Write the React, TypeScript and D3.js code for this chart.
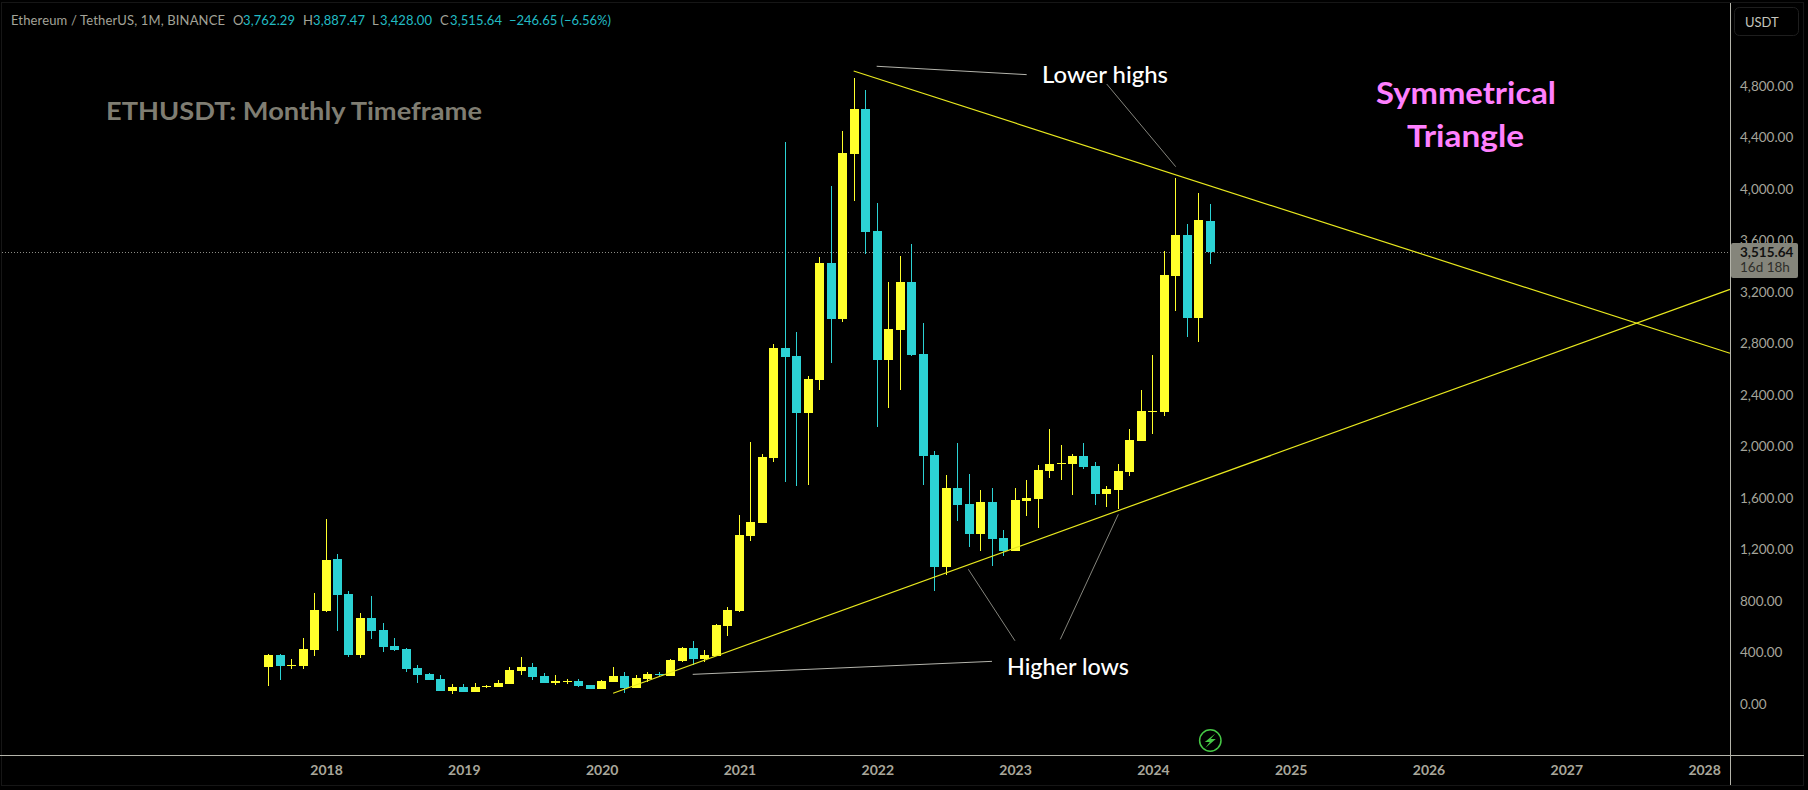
import React, { useEffect, useRef } from 'react';
import * as d3 from 'd3';

const WIDTH = 1808;
const HEIGHT = 790;
const AXIS_X = 1730;
const AXIS_Y = 755;
const LABEL_FONT = 'Lato, "Open Sans", sans-serif';

// monthly bars, Aug 2017 -> Jun 2024
const opens = [295, 388, 303, 303, 427, 730, 1134, 862, 388, 676, 583, 458, 435, 287, 241, 202, 109, 140, 101, 140, 140, 163, 264, 295, 225, 171, 179, 186, 155, 124, 179, 225, 132, 202, 241, 225, 342, 443, 357, 381, 614, 730, 1313, 1414, 1918, 2773, 2711, 2268, 2524, 3433, 3000, 4280, 4629, 3682, 2680, 2913, 3286, 2726, 1941, 1072, 1685, 1561, 1328, 1576, 1297, 1196, 1584, 1600, 1817, 1872, 1872, 1934, 1856, 1639, 1670, 1809, 2050, 2275, 2276, 3332, 3651, 3006, 3762.29];
const highs = [396, 396, 357, 520, 870, 1445, 1173, 885, 715, 847, 637, 520, 443, 311, 249, 233, 163, 163, 171, 155, 194, 295, 373, 326, 249, 233, 202, 202, 155, 194, 295, 256, 233, 256, 256, 357, 450, 497, 427, 629, 761, 1476, 2043, 1950, 2804, 4373, 2897, 2556, 3480, 4031, 4459, 4870, 4777, 3899, 3286, 3488, 3581, 2967, 1972, 1786, 2035, 1794, 1670, 1685, 1359, 1685, 1747, 1864, 2143, 2019, 1949, 2035, 1887, 1701, 1872, 2143, 2446, 2718, 3526, 4094, 3736, 3977, 3887.47];
const lows = [148, 194, 280, 280, 381, 722, 575, 373, 365, 513, 412, 419, 256, 171, 194, 109, 86, 101, 101, 132, 140, 163, 233, 194, 171, 155, 163, 140, 124, 124, 179, 93, 132, 179, 225, 225, 334, 311, 334, 381, 536, 722, 1274, 1414, 1887, 1732, 1701, 1709, 2447, 2657, 2975, 3915, 3503, 2159, 2307, 2447, 2711, 1709, 885, 1009, 1429, 1227, 1196, 1079, 1157, 1196, 1468, 1374, 1763, 1747, 1631, 1833, 1553, 1538, 1519, 1778, 2050, 2105, 2245, 3061, 2859, 2820, 3428];
const closes = [388, 303, 311, 435, 738, 1126, 854, 388, 676, 575, 450, 427, 280, 233, 194, 109, 140, 101, 140, 148, 171, 272, 295, 218, 171, 186, 186, 148, 124, 186, 225, 132, 210, 241, 233, 349, 443, 357, 388, 621, 738, 1320, 1421, 1926, 2773, 2703, 2268, 2532, 3433, 3000, 4288, 4629, 3674, 2680, 2921, 3286, 2719, 1934, 1072, 1685, 1553, 1328, 1576, 1289, 1196, 1592, 1607, 1825, 1872, 1879, 1934, 1848, 1639, 1677, 1817, 2058, 2283, 2283, 3340, 3651, 3006, 3767, 3515.64];

const priceTicks = [0, 400, 800, 1200, 1600, 2000, 2400, 2800, 3200, 3600, 4000, 4400, 4800];
const yearBars = [5, 17, 29, 41, 53, 65, 77, 89, 101, 113, 125];
const yearLabels = ['2018', '2019', '2020', '2021', '2022', '2023', '2024', '2025', '2026', '2027', '2028'];

const lastPrice = 3515.64;

// trend lines as [bar, price] anchors, extended past the last bar
const upperTrend = [[50.95, 4924], [127.25, 2732]];
const lowerTrend = [[30.0, 91], [127.25, 3228]];

// thin leader lines from the text notes
const leaders = [
    [[52.95, 4961], [66.01, 4896]],
    [[72.98, 4823], [78.99, 4181]],
    [[60.93, 1054], [64.99, 499]],
    [[73.99, 1481], [68.94, 510]],
    [[36.93, 238], [62.99, 339]]
];

const legendText = ['Ethereum / TetherUS, 1M, BINANCE', 'O', '3,762.29', 'H', '3,887.47', 'L', '3,428.00', 'C', '3,515.64', '−246.65 (−6.56%)'];
const legendX = [11, 233, 243, 303, 313, 372, 380, 440, 450, 509];
const legendLength = [214, null, 52, null, 52, null, 52, null, 52, 102];

const barX = d3.scaleLinear().domain([0, 82]).range([268.6, 1210.3]);
const priceY = d3.scaleLinear().domain([0, 4800]).range([705, 87]);

export default function App() {
    const ref = useRef<SVGSVGElement>(null);

    useEffect(() => {
        const svg = d3.select(ref.current);
        svg.selectAll('*').remove();

        svg.append('rect').attr('width', WIDTH).attr('height', HEIGHT).attr('fill', '#000');
        svg.append('rect')
            .attr('x', 1.5).attr('y', 2.5)
            .attr('width', 1802).attr('height', 783)
            .attr('fill', 'none').attr('stroke', '#161616');

        // last price line
        svg.append('line')
            .attr('x1', 2).attr('x2', AXIS_X)
            .attr('y1', Math.round(priceY(lastPrice)) + 0.5).attr('y2', Math.round(priceY(lastPrice)) + 0.5)
            .attr('stroke', '#8c8c86')
            .attr('stroke-dasharray', '1 2');

        // candles
        const candles = svg.append('g').selectAll('g')
            .data(d3.range(opens.length))
            .enter()
            .append('g')
            .attr('fill', i => (closes[i] >= opens[i] ? '#ffff2b' : '#2cd2d4'));

        candles.append('rect')
            .attr('x', i => Math.floor(barX(i)))
            .attr('width', 1)
            .attr('y', i => Math.round(priceY(highs[i])))
            .attr('height', i => Math.round(priceY(lows[i])) - Math.round(priceY(highs[i])));

        candles.append('rect')
            .attr('x', i => Math.floor(barX(i)) - 4)
            .attr('width', 9)
            .attr('y', i => Math.round(priceY(Math.max(opens[i], closes[i]))))
            .attr('height', i => Math.max(1, Math.round(priceY(Math.min(opens[i], closes[i]))) - Math.round(priceY(Math.max(opens[i], closes[i])))));

        // trend lines
        const line = d3.line<number[]>()
            .x(d => barX(d[0]))
            .y(d => priceY(d[1]));

        svg.append('g').selectAll('path')
            .data([upperTrend, lowerTrend])
            .enter()
            .append('path')
            .attr('d', line)
            .attr('fill', 'none')
            .attr('stroke', '#e8e81e')
            .attr('stroke-width', 1.2);

        svg.append('g').selectAll('path')
            .data(leaders)
            .enter()
            .append('path')
            .attr('d', line)
            .attr('fill', 'none')
            .attr('stroke', (d, i) => (i === 0 || i === 4 ? '#b4b4ac' : '#85857d'))
            .attr('stroke-width', 1);

        // notes
        const note = (text, x, y, size, weight, color, length) => {
            svg.append('text')
                .attr('x', x).attr('y', y)
                .attr('font-family', LABEL_FONT)
                .attr('font-size', size)
                .attr('font-weight', weight)
                .attr('fill', color)
                .attr('textLength', length)
                .attr('lengthAdjust', 'spacingAndGlyphs')
                .text(text);
        };
        note('ETHUSDT: Monthly Timeframe', 106, 120, 25, 700, '#7f7d72', 376);
        note('Lower highs', 1042, 83, 23, 500, '#ffffff', 126);
        note('Higher lows', 1007, 675, 23, 500, '#ffffff', 122);
        note('Symmetrical', 1376, 104, 30, 700, '#ff80ff', 180);
        note('Triangle', 1407, 147, 30, 700, '#ff80ff', 117);

        // legend
        const legend = svg.append('g').selectAll('text')
            .data(legendText)
            .enter()
            .append('text')
            .attr('x', (d, i) => legendX[i])
            .attr('y', 25)
            .attr('font-family', LABEL_FONT)
            .attr('font-size', 13)
            .attr('fill', (d, i) => (i === 0 || (i % 2 === 1 && i < 9) ? '#a3a398' : '#22bcc4'))
            .text(d => d);
        legend.filter((d, i) => legendLength[i] !== null)
            .attr('textLength', d => legendLength[legendText.indexOf(d)])
            .attr('lengthAdjust', 'spacing');

        // axes
        const yAxis = d3.axisRight(priceY)
            .tickValues(priceTicks)
            .tickFormat(d3.format(',.2f'))
            .tickSize(0)
            .tickPadding(10);
        const yG = svg.append('g').attr('transform', `translate(${AXIS_X},-1)`).call(yAxis);
        yG.select('.domain').remove();
        yG.selectAll('text')
            .attr('font-family', LABEL_FONT)
            .attr('font-size', 13.5)
            .attr('fill', '#a5a59b');

        const xAxis = d3.axisBottom(barX)
            .tickValues(yearBars)
            .tickFormat((d, i) => yearLabels[i])
            .tickSize(0)
            .tickPadding(10);
        const xG = svg.append('g').attr('transform', `translate(0,${AXIS_Y})`).call(xAxis);
        xG.select('.domain').remove();
        xG.selectAll('text')
            .attr('font-family', LABEL_FONT)
            .attr('font-size', 14)
            .attr('font-weight', 700)
            .attr('fill', '#a9a79b');

        svg.append('line')
            .attr('x1', AXIS_X + 0.5).attr('x2', AXIS_X + 0.5).attr('y1', 3).attr('y2', 785)
            .attr('stroke', '#b4b4aa');
        svg.append('line')
            .attr('x1', 0).attr('x2', 1804).attr('y1', AXIS_Y + 0.5).attr('y2', AXIS_Y + 0.5)
            .attr('stroke', '#b4b4aa');

        // currency button
        svg.append('rect')
            .attr('x', 1734.5).attr('y', 7.5)
            .attr('width', 64).attr('height', 28).attr('rx', 5)
            .attr('fill', 'none').attr('stroke', '#1e1e1e');
        svg.append('text')
            .attr('x', 1745).attr('y', 27)
            .attr('font-family', LABEL_FONT)
            .attr('font-size', 13)
            .attr('fill', '#c4c4bc')
            .text('USDT');

        // last price tag, sits on top of the 3,600 tick like in the platform
        svg.append('rect')
            .attr('x', AXIS_X + 1).attr('y', 243)
            .attr('width', 67).attr('height', 35).attr('rx', 2)
            .attr('fill', '#85857b');
        svg.append('text')
            .attr('x', 1740).attr('y', 257)
            .attr('font-family', LABEL_FONT)
            .attr('font-size', 13.5)
            .attr('font-weight', 700)
            .attr('fill', '#111')
            .text(d3.format(',.2f')(lastPrice));
        svg.append('text')
            .attr('x', 1740).attr('y', 272)
            .attr('font-family', LABEL_FONT)
            .attr('font-size', 13.5)
            .attr('fill', '#2e2e2a')
            .text('16d 18h');

        // lightning badge under the last bar
        const badge = svg.append('g').attr('transform', `translate(${barX(82)},740.5)`);
        badge.append('circle')
            .attr('r', 10.7)
            .attr('fill', 'none')
            .attr('stroke', '#46c846')
            .attr('stroke-width', 1.5);
        badge.append('path')
            .attr('d', 'M5,-7L-5.5,1.5H-0.5L-5,7.5L5.5,-1.5H0.5Z')
            .attr('fill', '#46c846');
    }, []);

    return (
        <svg
            ref={ref}
            width={WIDTH}
            height={HEIGHT}
            style={{ position: 'absolute', left: 0, top: 0, display: 'block' }}
        />
    );
}
